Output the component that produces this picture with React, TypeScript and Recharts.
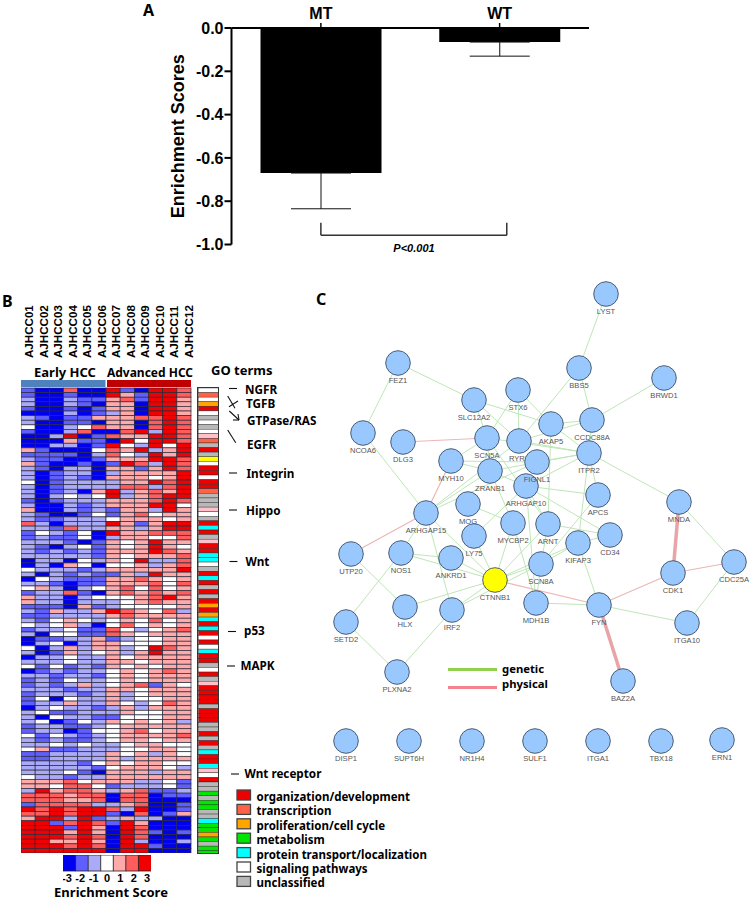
import {
  Bar,
  BarChart,
  Cell,
  ErrorBar,
  ReferenceLine,
  Scatter,
  ScatterChart,
  XAxis,
  YAxis,
} from "recharts";

const ARIAL = "'Liberation Sans', Arial, sans-serif";
const NOTO = "'Noto Sans', sans-serif";

// Panel A
const groups = ["MT", "WT"];
const meanScores = [-0.67, -0.065];
const scoreErrors = [0.165, 0.065];
const scoreTicks = [0, -0.2, -0.4, -0.6, -0.8, -1];
// error bars only hang below the bars
const barData = groups.map((name, i) => ({ name, mean: meanScores[i], err: [scoreErrors[i], 0] }));

// Panel B
const samples = [
  "AJHCC01", "AJHCC02", "AJHCC03", "AJHCC04", "AJHCC05", "AJHCC06",
  "AJHCC07", "AJHCC08", "AJHCC09", "AJHCC10", "AJHCC11", "AJHCC12",
];
const heatRows = [
  [-2, -3, -3, 2, -3, -3, 3, -2, -3, 3, 3, 2],
  [-2, -3, -3, -2, -3, -3, 3, 1, -2, 3, 3, 2],
  [-1, -3, -3, -1, -2, -2, 1, 2, -2, 3, 3, 1],
  [-1, -3, -3, -1, -2, -3, 1, 1, -3, 3, 3, 1],
  [-2, -3, -3, -2, -3, -2, 1, 1, -3, 3, 3, 1],
  [-3, -3, -3, -1, -3, -2, -1, 1, -3, 3, 3, 1],
  [-1, -2, -3, -2, -2, 1, 1, 1, 2, 2, 3, 2],
  [-1, -3, -3, -2, -2, -3, 1, 1, -3, 2, 3, 2],
  [0, -3, -3, -1, 0, 2, 1, 1, -3, 2, 3, 2],
  [-2, -3, -3, -1, 2, -3, -3, 2, 3, -1, 3, 2],
  [-3, -3, -1, 3, -3, -2, 2, 1, 1, 3, 3, 2],
  [-3, -3, -3, 1, -2, -2, -3, 3, 0, 3, 3, 2],
  [-3, -3, -1, -1, -3, -2, 3, 0, -1, 3, 0, 3],
  [1, -2, -3, -3, -3, 0, 2, 1, 3, -1, 1, 3],
  [-2, -2, -2, -2, -3, -1, 2, 0, -1, 3, 1, 3],
  [-1, -2, -2, -3, -3, -2, 1, 1, 1, 3, 3, 2],
  [1, -2, -3, -3, -2, -3, -2, 3, 2, -1, 3, 2],
  [-1, -2, -3, -1, -1, -3, 1, 1, -2, 1, 3, 2],
  [-1, -3, -2, -1, -1, -3, -1, 1, 1, 1, 1, 3],
  [-1, -3, -2, -1, -2, -3, 1, 1, 1, 0, 1, 3],
  [0, -3, -2, -1, -1, -1, -1, 1, 1, 3, 2, 3],
  [-1, -3, -2, -1, -1, -1, -1, 2, 2, -1, 2, 3],
  [-1, -3, -2, -1, -3, 1, 3, -1, 1, 2, 1, 3],
  [-1, -3, -1, 0, -1, 0, 3, -1, 1, 2, 3, 3],
  [-2, -3, -2, -1, -1, -1, 1, 1, 1, 2, 3, 2],
  [-1, -3, -3, -1, -2, -1, 1, 1, 1, 3, 3, 0],
  [1, -3, -3, -1, -2, -1, -2, 1, 1, -1, 3, 1],
  [-1, -2, -3, -3, -2, 0, -2, 1, 2, 0, 1, 1],
  [-1, -2, -2, -1, -1, -1, 0, 1, 1, 1, 0, 1],
  [2, -1, -3, -1, -1, -1, 3, 1, -2, 1, 3, 3],
  [-1, -1, -2, 2, -1, -1, 1, 1, -1, 1, 3, 3],
  [-2, 0, -1, -2, 0, -3, 3, 1, 1, 2, 2, 2],
  [-2, -1, -2, -2, 0, -3, -1, 1, 1, 0, 0, 2],
  [-1, -1, -1, -2, -3, -2, 1, 0, 1, 3, 1, 1],
  [-1, -2, -3, -1, 0, -2, 1, 0, 1, 3, 1, 0],
  [-1, -2, -1, -2, -1, -2, 1, 1, 1, 3, 2, 1],
  [-1, -1, -1, -1, -1, -2, 1, 0, 1, 1, 1, 2],
  [-3, -1, -1, -3, 0, -1, 1, 0, 3, -1, -1, 2],
  [-3, -1, -3, 1, 0, -3, 0, 0, 1, -1, 1, 2],
  [0, -1, -1, -1, -2, -1, 1, 1, 1, 1, 1, 3],
  [-1, -3, -1, -2, -1, -2, -2, 1, -1, 3, 1, 1],
  [-3, 0, -1, -2, -2, -2, 1, 1, 2, 1, 0, 1],
  [-1, -1, -2, -3, -2, -2, 1, 1, 1, 2, 0, 2],
  [0, 1, -1, -3, -1, 0, 1, 2, 0, 2, 0, 1],
  [-2, -1, -1, 2, -2, -3, 1, 2, 1, 2, 1, 2],
  [1, -1, -1, -3, -1, 0, 0, 0, 1, 2, 3, 1],
  [1, -1, -1, -3, -1, -1, -1, 0, 1, 2, 1, 1],
  [-2, -2, -2, -3, 1, -2, -1, 0, 0, 0, 0, 1],
  [-1, -2, 1, -1, -1, 1, 3, 2, 1, 0, 2, -1],
  [-2, -2, -1, -1, -1, -1, 1, 2, 1, 1, 1, 1],
  [-1, -2, 0, 1, 0, -1, 0, 1, 0, 2, 0, 1],
  [0, -1, 0, 1, -1, -3, 0, 2, 0, 1, 0, 1],
  [-2, -1, -1, 0, -2, -2, 2, 0, -1, 0, 1, 2],
  [-1, -3, 0, 0, -2, -2, 2, 1, 0, 1, 1, 1],
  [-3, -2, -2, -1, -1, 1, -2, -1, 0, 0, 1, 1],
  [-3, -1, 0, -3, -1, 1, 1, 0, 0, 0, 1, 1],
  [0, -3, -1, 1, -1, 1, 1, -1, 0, 3, 2, 1],
  [-1, -3, -2, 1, -1, 0, 1, -1, 1, 3, 1, 1],
  [-3, -1, -1, 0, -1, -1, 1, 0, 1, 1, 1, 1],
  [-1, -1, -1, 0, -1, -1, 1, 1, 0, 1, 1, 1],
  [0, -2, 0, -2, -1, -2, 1, 0, 1, 0, 1, 1],
  [-3, -2, -1, -2, -1, -1, 0, 1, 0, 1, 2, 1],
  [-1, -1, -2, -1, -1, -2, 0, 1, 0, 1, 1, 1],
  [-2, -1, -2, 0, -1, -1, 0, 1, 0, 1, 1, 1],
  [-2, -1, -2, -1, 1, -1, 0, 1, 2, -2, 1, 0],
  [-1, -1, -1, -2, -1, -1, 1, 1, 0, 1, 1, 1],
  [-2, -1, -1, -1, -2, -1, 1, -1, 0, 1, 1, 1],
  [-2, 0, -3, 0, -1, -1, 1, -1, 0, 0, 1, 1],
  [-2, -1, -1, 1, -1, -1, 1, 0, -1, 0, 2, 1],
  [-3, -1, 0, -1, -1, -2, -1, 1, -1, 1, 1, 1],
  [-1, 0, -2, -2, -1, -1, -1, 1, 0, 0, 1, 1],
  [-1, -3, 0, -1, -1, -2, -2, 0, 0, 0, 1, 1],
  [-1, 0, -3, -2, 0, -1, 1, 0, 1, 0, 1, -1],
  [-2, -1, -1, -2, -2, -1, 0, 1, 1, 1, 1, 1],
  [-2, -1, -1, -3, -2, 0, 0, 1, 2, 0, 1, 1],
  [0, -2, 0, -1, -2, -1, 0, 1, 1, 1, 1, 2],
  [-1, -2, -1, -2, -2, -1, 0, 1, 1, 0, 1, 1],
  [-1, -1, 0, -1, 0, -1, -1, 0, 1, 1, 0, 0],
  [0, 1, -2, -2, -1, -1, -1, 0, 0, 1, 1, 0],
  [-2, -2, -1, -1, -1, -1, 1, 0, 1, -1, 1, 0],
  [-2, -2, -1, -1, -1, -1, 1, -1, 1, 1, 1, 1],
  [-1, -1, -1, -1, -2, 0, 1, 0, 1, 1, 0, 0],
  [-1, -1, -1, -1, -1, -2, 0, 1, 1, 1, 0, -1],
  [-1, -1, -1, 0, -2, -3, 1, 1, 1, -1, 1, 1],
  [0, -1, -1, -2, -1, -1, 1, 1, 1, 1, 1, 1],
  [1, 1, 1, 2, 0, 1, 1, 1, -1, -1, 0, -2],
  [1, 1, 0, 2, 2, 0, -2, -1, -1, -1, 0, -2],
  [-1, 3, 1, 2, 2, 1, -1, 1, 2, -2, -2, -1],
  [2, 2, 2, 1, 2, 2, -3, 2, 2, -3, -2, -2],
  [2, 2, 2, 1, 1, 2, -3, 2, 2, -3, -3, -3],
  [-2, 2, 2, 2, 2, -1, -1, 1, 2, -3, -3, -2],
  [3, 2, 3, 2, 3, 3, 2, -1, 3, -3, -3, -2],
  [2, 2, 3, 2, 3, 3, -2, -3, 2, -3, -2, 1],
  [1, 3, 3, -1, 3, -2, -1, 1, -1, -1, -3, -3],
  [3, 3, -2, 2, 3, 2, -2, 3, 1, -3, -3, -3],
  [3, 3, 3, -2, 3, 1, -3, 3, 2, -3, -3, -3],
  [3, 3, 3, 1, 3, 1, -3, 3, 2, -2, -3, -2],
  [3, 3, 3, 2, 3, 2, -3, 3, 2, -3, -3, -3],
  [3, 3, 1, 1, 3, 1, -3, 3, -1, -3, -3, -1],
  [3, 3, 3, 2, 3, 2, -3, 3, 3, -2, -3, -3],
  [3, 3, 3, 3, 3, 3, -3, 3, 3, -3, -3, -3],
];
const scoreLevels = [-3, -2, -1, 0, 1, 2, 3];
const levelColors = ["#0000f0", "#5f5fff", "#aaaaf8", "#ffffff", "#ffaaaa", "#ff5c5c", "#f00000"];
const heatCells = heatRows.flatMap((row, r) => row.map((value, c) => ({ col: c, row: r, value })));
const colorKey = scoreLevels.map((level) => ({ level, span: 1 }));

const goClasses = [
  { key: "R", label: "organization/development", color: "#ee0000" },
  { key: "T", label: "transcription", color: "#ff6347" },
  { key: "O", label: "proliferation/cell cycle", color: "#ffa500" },
  { key: "G", label: "metabolism", color: "#00e600" },
  { key: "C", label: "protein transport/localization", color: "#00ffff" },
  { key: "W", label: "signaling pathways", color: "#ffffff" },
  { key: "U", label: "unclassified", color: "#b8b8b8" },
];
const extraGoColors: Record<string, string> = { Y: "#ffff00", P: "#ffc0cb" };
const goRows = (
  "W T W O R W U W U W P T U R U Y W R R W " +
  "R R T U U U P W U R C R U P R R C C W U R C R U R U R O R O C R C R W R W C R R U W R U " +
  "P R R R R U R R R U U R U R U C R R C P W R U U G U G G U U C G G O G U G G"
).split(" ");
const goCells = goRows.map((key, row) => ({ key, row, col: 0 }));
const goColor = (key: string) =>
  extraGoColors[key] ?? goClasses.find((g) => g.key === key)?.color ?? "#fff";

const pathwayLabels = [
  { text: "NGFR", x: 245, y: 389 },
  { text: "TGFB", x: 246, y: 403 },
  { text: "GTPase/RAS", x: 247, y: 420 },
  { text: "EGFR", x: 247, y: 444 },
  { text: "Integrin", x: 246.5, y: 473 },
  { text: "Hippo", x: 246, y: 510 },
  { text: "Wnt", x: 245.5, y: 561 },
  { text: "p53", x: 244, y: 630 },
  { text: "MAPK", x: 240.5, y: 665.5 },
  { text: "Wnt receptor", x: 244.5, y: 773.5 },
];
const pathwayMarks = [
  [229, 388.5, 237, 388.5], [229, 473, 237, 473], [229, 510, 237, 510],
  [229.5, 561.5, 237.5, 561.5], [228, 631.5, 236, 631.5], [227, 666, 235, 666],
  [231, 774, 239, 774], [227.7, 396, 235, 408.3], [229, 406.7, 238, 401],
  [229.3, 411, 239, 420], [233, 420, 239, 420], [238, 414, 239, 420],
  [227.7, 430, 235.7, 442.7],
];

// Panel C
const nodes = [
  { name: "LYST", x: 606, y: 294 }, { name: "BBS5", x: 579, y: 368 },
  { name: "BRWD1", x: 664, y: 378 }, { name: "FEZ1", x: 398, y: 363 },
  { name: "STX6", x: 518, y: 390 }, { name: "SLC12A2", x: 474, y: 400 },
  { name: "AKAP5", x: 551, y: 424 }, { name: "CCDC88A", x: 592, y: 420 },
  { name: "NCOA6", x: 363, y: 433 }, { name: "DLG3", x: 403, y: 442 },
  { name: "SCN5A", x: 487, y: 438 }, { name: "RYR1", x: 519, y: 441 },
  { name: "ARHGAP10", x: 526, y: 486 }, { name: "FIGNL1", x: 537, y: 462 },
  { name: "ITPR2", x: 589, y: 453 },
  { name: "MYH10", x: 451, y: 461 }, { name: "ZRANB1", x: 490, y: 471 },
  { name: "APCS", x: 598, y: 495 },
  { name: "MNDA", x: 679, y: 502 }, { name: "MOG", x: 468, y: 504 },
  { name: "ARHGAP15", x: 426, y: 513 }, { name: "MYCBP2", x: 513, y: 523 },
  { name: "ARNT", x: 548, y: 524 }, { name: "CD34", x: 610, y: 535 },
  { name: "KIFAP3", x: 578, y: 543 }, { name: "LY75", x: 474, y: 536 },
  { name: "UTP20", x: 351, y: 554 }, { name: "NOS1", x: 401, y: 553 },
  { name: "ANKRD1", x: 451, y: 558 }, { name: "SCN8A", x: 541, y: 564 },
  { name: "CDK1", x: 673, y: 573 }, { name: "CDC25A", x: 734, y: 562 },
  { name: "CTNNB1", x: 495, y: 580 }, { name: "HLX", x: 405, y: 607 },
  { name: "IRF2", x: 452, y: 610 }, { name: "MDH1B", x: 536, y: 603 },
  { name: "FYN", x: 599, y: 605 }, { name: "ITGA10", x: 687, y: 623 },
  { name: "SETD2", x: 346, y: 622 }, { name: "PLXNA2", x: 397, y: 672 },
  { name: "BAZ2A", x: 623, y: 681 }, { name: "DISP1", x: 346, y: 741 },
  { name: "SUPT6H", x: 409, y: 741 }, { name: "NR1H4", x: 472, y: 741 },
  { name: "SULF1", x: 535, y: 741 }, { name: "ITGA1", x: 598, y: 741 },
  { name: "TBX18", x: 661, y: 741 }, { name: "ERN1", x: 722, y: 740 },
];
const geneticEdges = [
  ["LYST", "BBS5"], ["BBS5", "CCDC88A"], ["BBS5", "RYR1"], ["BRWD1", "CCDC88A"],
  ["FEZ1", "NCOA6"], ["FEZ1", "SLC12A2"], ["SLC12A2", "AKAP5"], ["SLC12A2", "RYR1"],
  ["SLC12A2", "SCN5A"], ["STX6", "SCN5A"], ["STX6", "RYR1"], ["STX6", "AKAP5"],
  ["CCDC88A", "AKAP5"], ["CCDC88A", "RYR1"], ["CCDC88A", "ITPR2"], ["AKAP5", "ITPR2"],
  ["AKAP5", "ARNT"], ["NCOA6", "ARHGAP15"], ["SCN5A", "MYH10"], ["SCN5A", "ITPR2"],
  ["SCN5A", "ZRANB1"], ["SCN5A", "ARNT"], ["RYR1", "ITPR2"], ["RYR1", "ARHGAP15"],
  ["MYH10", "FIGNL1"], ["MYH10", "ZRANB1"], ["ZRANB1", "ITPR2"], ["ZRANB1", "ARHGAP15"],
  ["ZRANB1", "ARHGAP10"], ["ZRANB1", "MYCBP2"], ["FIGNL1", "ITPR2"], ["FIGNL1", "ARHGAP15"],
  ["ARHGAP10", "ITPR2"], ["ITPR2", "APCS"], ["ITPR2", "MNDA"], ["ITPR2", "KIFAP3"],
  ["ARHGAP10", "APCS"], ["ARHGAP10", "CD34"], ["ARHGAP10", "LY75"], ["ARHGAP10", "ARNT"],
  ["ARHGAP10", "MDH1B"], ["MOG", "MYCBP2"], ["APCS", "SCN8A"], ["ARNT", "CD34"],
  ["ARNT", "CTNNB1"], ["ARNT", "SCN8A"], ["CD34", "KIFAP3"], ["KIFAP3", "SCN8A"],
  ["KIFAP3", "CTNNB1"], ["KIFAP3", "FYN"], ["MYCBP2", "CTNNB1"], ["MYCBP2", "MDH1B"],
  ["LY75", "CTNNB1"], ["ARHGAP15", "CTNNB1"], ["ARHGAP15", "IRF2"], ["ARHGAP15", "NOS1"],
  ["UTP20", "HLX"], ["NOS1", "SETD2"], ["NOS1", "ANKRD1"], ["NOS1", "CTNNB1"],
  ["ANKRD1", "CTNNB1"], ["CTNNB1", "HLX"], ["CTNNB1", "IRF2"], ["CTNNB1", "SCN8A"],
  ["IRF2", "SCN8A"], ["IRF2", "PLXNA2"], ["SETD2", "PLXNA2"], ["SCN8A", "MDH1B"],
  ["MDH1B", "FYN"], ["FYN", "ITGA10"], ["MNDA", "CDC25A"], ["CDC25A", "ITGA10"],
];
const physicalEdges = [
  ["DLG3", "SCN5A"], ["MYH10", "ARHGAP15"], ["ARHGAP15", "UTP20"], ["CTNNB1", "FYN"],
  ["FYN", "CDK1"], ["CDK1", "CDC25A"],
];
const strongPhysicalEdges = [["FYN", "BAZ2A"], ["MNDA", "CDK1"]];
const nodeAt = (name: string) => nodes.find((n) => n.name === name)!;

function HeatCell(props: any) {
  const w = 170 / samples.length;
  const h = 465 / heatRows.length;
  return (
    <rect
      x={props.cx - w / 2}
      y={props.cy - h / 2}
      width={w}
      height={h}
      fill={levelColors[props.payload.value + 3]}
      stroke="#2a2a3a"
      strokeWidth={0.7}
    />
  );
}

function GoCell(props: any) {
  const h = 465 / heatRows.length;
  return (
    <rect
      x={props.cx - 10}
      y={props.cy - h / 2}
      width={20}
      height={h}
      fill={goColor(props.payload.key)}
      stroke="#222"
      strokeWidth={0.4}
    />
  );
}

function GeneNode(props: any) {
  const { cx, cy, payload } = props;
  return (
    <g>
      <circle
        cx={cx}
        cy={cy}
        r={12.3}
        fill={payload.name === "CTNNB1" ? "#ffff00" : "#99c8ff"}
        stroke="#3c4f66"
        strokeWidth={0.9}
      />
      <text x={cx} y={cy + 19.5} textAnchor="middle" fontSize={7.6} fontFamily={ARIAL} fill="#555">
        {payload.name}
      </text>
    </g>
  );
}

const noShape = () => <g />;

function edgeSeries(edges: string[][], stroke: string, strokeWidth: number, prefix: string) {
  return edges.map(([a, b]) => (
    <Scatter
      key={prefix + a + b}
      data={[nodeAt(a), nodeAt(b)]}
      line={{ stroke, strokeWidth }}
      shape={noShape}
      isAnimationActive={false}
    />
  ));
}

function SampleTick(props: any) {
  const x = props.x + 1.4 + props.index * 0.3;
  const y = props.y - 30;
  return (
    <text
      x={x}
      y={y}
      transform={`rotate(-90 ${x} ${y})`}
      dy={4}
      fontSize={11.6}
      fontWeight="bold"
      fontFamily={ARIAL}
      fill="#000"
    >
      {samples[props.payload.value]}
    </text>
  );
}

function KeyTick(props: any) {
  return (
    <text x={props.x + (props.index - 3) * 0.8} y={props.y + 7} textAnchor="middle" fontSize={11} fontWeight="bold" fontFamily={ARIAL} fill="#000">
      {props.payload.value}
    </text>
  );
}

const abs = (left: number, top: number): React.CSSProperties => ({ position: "absolute", left, top });

export default function App() {
  return (
    <div style={{ position: "absolute", left: 0, top: 0, width: 753, height: 901, background: "#fff", overflow: "hidden" }}>
      {/* A : enrichment bars */}
      <div style={abs(130, 0)}>
        <BarChart
          width={459}
          height={270}
          data={barData}
          margin={{ top: 0, right: 0, bottom: 25.5, left: 41.5 }}
          barCategoryGap={29}
        >
          <XAxis
            dataKey="name"
            orientation="top"
            height={28}
            axisLine={{ stroke: "#000", strokeWidth: 2 }}
            tickLine={{ stroke: "#000", strokeWidth: 1.5 }}
            tickSize={5}
            tickMargin={4}
            tick={{ fontSize: 16, fontWeight: "bold", fill: "#000", fontFamily: ARIAL }}
          />
          <XAxis xAxisId="pos" type="number" domain={[0, 1]} allowDataOverflow hide />
          <YAxis
            width={60}
            domain={[-1, 0]}
            ticks={scoreTicks}
            tickFormatter={(v) => Number(v).toFixed(1)}
            axisLine={{ stroke: "#000", strokeWidth: 2 }}
            tickLine={{ stroke: "#000", strokeWidth: 2 }}
            tickSize={7}
            tickMargin={1}
            tick={{ fontSize: 16, fontWeight: "bold", fill: "#000", fontFamily: ARIAL }}
            label={{
              value: "Enrichment Scores",
              angle: -90,
              position: "insideLeft",
              offset: 6,
              style: { fontSize: 18, fontWeight: "bold", fill: "#000", fontFamily: ARIAL, textAnchor: "middle" },
            }}
          />
          <Bar dataKey="mean" fill="#000" isAnimationActive={false}>
            <ErrorBar dataKey="err" width={30} stroke="#111" strokeWidth={1} isAnimationActive={false} />
          </Bar>
          <ReferenceLine xAxisId="pos" segment={[{ x: 0.25, y: -0.9 }, { x: 0.25, y: -0.957 }]} stroke="#333" strokeWidth={1.5} ifOverflow="visible" />
          <ReferenceLine xAxisId="pos" segment={[{ x: 0.25, y: -0.957 }, { x: 0.77, y: -0.957 }]} stroke="#333" strokeWidth={1.5} ifOverflow="visible" />
          <ReferenceLine xAxisId="pos" segment={[{ x: 0.77, y: -0.9 }, { x: 0.77, y: -0.957 }]} stroke="#333" strokeWidth={1.5} ifOverflow="visible" />
        </BarChart>
      </div>

      {/* B : heat map */}
      <div style={abs(21, 300)}>
        <ScatterChart width={190} height={553} margin={{ top: 0, right: 20, bottom: 0, left: 0 }}>
          <XAxis
            type="number"
            dataKey="col"
            orientation="top"
            height={88}
            domain={[-0.5, 11.5]}
            ticks={samples.map((_, i) => i)}
            interval={0}
            axisLine={false}
            tickLine={false}
            tickSize={0}
            tickMargin={0}
            tick={SampleTick}
          />
          <YAxis type="number" dataKey="row" hide reversed domain={[-0.5, heatRows.length - 0.5]} />
          <Scatter data={heatCells} shape={HeatCell} isAnimationActive={false} />
          <ReferenceLine x={5.5} stroke="#000" strokeWidth={2} />
          <ReferenceLine y={84.2} stroke="#000" strokeWidth={2} />
        </ScatterChart>
      </div>

      {/* GO strip */}
      <div style={abs(198, 388)}>
        <ScatterChart width={21} height={465} margin={{ top: 0, right: 0, bottom: 0, left: 0 }}>
          <XAxis type="number" dataKey="col" hide domain={[-1, 1]} />
          <YAxis type="number" dataKey="row" hide reversed domain={[-0.5, heatRows.length - 0.5]} />
          <Scatter data={goCells} shape={GoCell} isAnimationActive={false} />
        </ScatterChart>
      </div>
      <div style={{ ...abs(197, 387), width: 20, height: 465, border: "1.5px solid #333" }} />

      {/* score colour key */}
      <div style={abs(63, 855)}>
        <BarChart width={88} height={36} data={colorKey} margin={{ top: 0, right: 0, bottom: 0, left: 0 }} barCategoryGap={0}>
          <XAxis
            dataKey="level"
            height={20}
            interval={0}
            axisLine={false}
            tickLine={false}
            tickMargin={4}
            tickSize={0}
            tick={KeyTick}
          />
          <YAxis hide domain={[0, 1]} />
          <Bar dataKey="span" stroke="#222" strokeWidth={0.8} isAnimationActive={false}>
            {scoreLevels.map((level, i) => (
              <Cell key={level} fill={levelColors[i]} />
            ))}
          </Bar>
        </BarChart>
      </div>

      {/* C : interaction network */}
      <div style={abs(320, 280)}>
        <ScatterChart width={433} height={500} margin={{ top: 0, right: 0, bottom: 0, left: 0 }}>
          <XAxis type="number" dataKey="x" hide domain={[320, 753]} />
          <YAxis type="number" dataKey="y" hide reversed domain={[280, 780]} />
          {edgeSeries(geneticEdges, "#bfe6b8", 1, "g")}
          {edgeSeries(physicalEdges, "#ecb6b6", 1.2, "p")}
          {edgeSeries(strongPhysicalEdges, "#e8a4a6", 3.5, "s")}
          <Scatter data={nodes} shape={GeneNode} isAnimationActive={false} />
        </ScatterChart>
      </div>

      {/* panel letters, headings and legends */}
      <svg width={753} height={901} style={{ position: "absolute", left: 0, top: 0, pointerEvents: "none" }}>
        <text x={143} y={16} fontSize={16} fontWeight="bold" fontFamily={NOTO}>A</text>
        <text x={2} y={307} fontSize={16} fontWeight="bold" fontFamily={NOTO}>B</text>
        <text x={316} y={305} fontSize={16} fontWeight="bold" fontFamily={NOTO}>C</text>
        <text x={414} y={252} textAnchor="middle" fontSize={11} fontWeight="bold" fontStyle="italic" fontFamily={ARIAL}>P&lt;0.001</text>

        <rect x={21} y={380} width={84.5} height={7} fill="#4f81bd" />
        <rect x={107} y={380} width={84} height={7} fill="#c00000" />
        <text x={65} y={377} textAnchor="middle" fontSize={13} fontWeight="bold" fontFamily={NOTO}>Early HCC</text>
        <text x={150} y={377} textAnchor="middle" fontSize={12} fontWeight="bold" fontFamily={NOTO}>Advanced HCC</text>
        <text x={211} y={375} fontSize={13} fontWeight="bold" fontFamily={NOTO}>GO terms</text>

        {pathwayMarks.map(([x1, y1, x2, y2], i) => (
          <line key={i} x1={x1} y1={y1} x2={x2} y2={y2} stroke="#111" strokeWidth={1.1} />
        ))}
        {pathwayLabels.map((p) => (
          <text key={p.text} x={p.x} y={p.y + 4.5} fontSize={11.7} fontWeight="bold" fontFamily={NOTO}>{p.text}</text>
        ))}

        {goClasses.map((g, i) => (
          <g key={g.key}>
            <rect x={237} y={790 + i * 14.4} width={13.5} height={10} fill={g.color} stroke="#444" strokeWidth={1.3} />
            <text x={256.5} y={801 + i * 14.4} fontSize={11.5} fontWeight="bold" fontFamily={NOTO}>{g.label}</text>
          </g>
        ))}

        <text x={111} y={897} textAnchor="middle" fontSize={13} fontWeight="bold" fontFamily={NOTO}>Enrichment Score</text>

        <line x1={448} y1={669.5} x2={497} y2={669.5} stroke="#92d050" strokeWidth={3} />
        <line x1={448} y1={687.5} x2={497} y2={687.5} stroke="#f4838f" strokeWidth={3} />
        <text x={502} y={673} fontSize={11.3} fontWeight="bold" fontFamily={NOTO}>genetic</text>
        <text x={502} y={687.5} fontSize={11.3} fontWeight="bold" fontFamily={NOTO}>physical</text>
      </svg>
    </div>
  );
}
